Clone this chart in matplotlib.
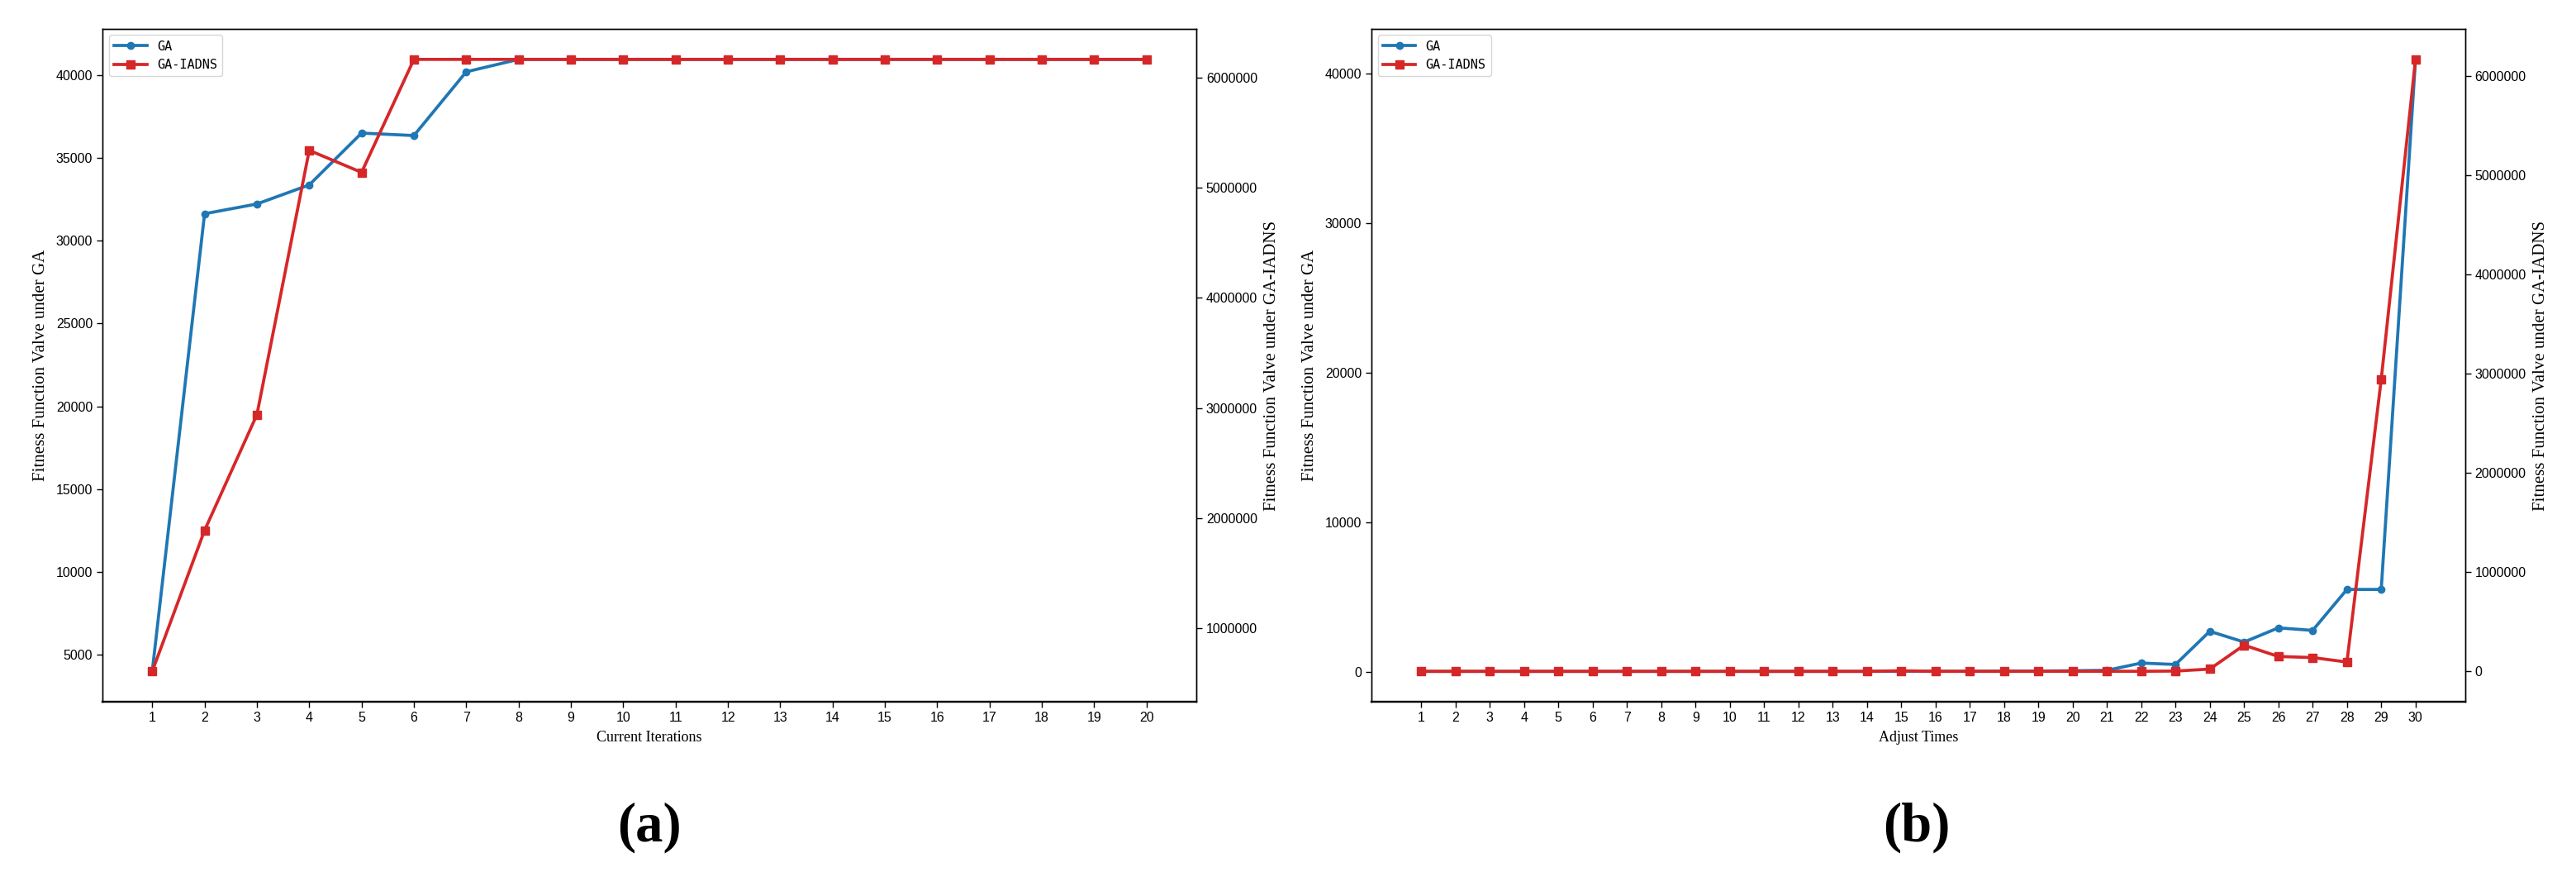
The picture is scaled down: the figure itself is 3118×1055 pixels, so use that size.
import matplotlib.pyplot as plt
from matplotlib.lines import Line2D

# (a) fitness per iteration
iters_a = list(range(1, 21))
ga_a = [4000, 31630, 32220, 33370, 36500, 36350, 40200, 40950, 40950, 40950,
        40950, 40950, 40950, 40950, 40950, 40950, 40950, 40950, 40950, 40950]
iadns_a = [610000, 1890000, 2940000, 5340000, 5140000, 6166000, 6166000, 6166000, 6166000, 6166000,
           6166000, 6166000, 6166000, 6166000, 6166000, 6166000, 6166000, 6166000, 6166000, 6166000]
yticks_a_left = [5000, 10000, 15000, 20000, 25000, 30000, 35000, 40000]
yticks_a_right = [1000000, 2000000, 3000000, 4000000, 5000000, 6000000]

# (b) fitness per adjustment
adjust_b = list(range(1, 31))
ga_b = [20, 20, 20, 20, 20, 20, 20, 20, 20, 20,
        20, 20, 20, 20, 30, 30, 30, 40, 40, 60,
        90, 575, 480, 2700, 1980, 2930, 2760, 5500, 5500, 40950]
iadns_b = [2000, 2000, 2000, 2000, 2000, 2000, 2000, 2000, 2000, 2000,
           2000, 2000, 2000, 2000, 8000, 2000, 2000, 2000, 2000, 3000,
           3000, 3000, 5000, 25000, 266000, 152000, 141000, 96000, 2943000, 6166000]
yticks_b_left = [0, 10000, 20000, 30000, 40000]
yticks_b_right = [0, 1000000, 2000000, 3000000, 4000000, 5000000, 6000000]

BLUE = '#1f77b4'
RED = '#d62728'
tick_font = 'Liberation Sans'
label_font = 'Liberation Serif'

fig = plt.figure(figsize=(31.18, 10.55), dpi=100)


def panel(rect, x, ga, iadns, lticks, rticks, xlabel, tag, tag_x):
    ax = fig.add_axes(rect)
    ax2 = ax.twinx()
    ax.plot(x, ga, color=BLUE, marker='o', markersize=6, linewidth=2.7)
    ax2.plot(x, iadns, color=RED, marker='s', markersize=6.5, linewidth=2.7)
    ax.set_xticks(x)
    ax.set_yticks(lticks)
    ax2.set_yticks(rticks)
    ax2.ticklabel_format(axis='y', style='plain', useOffset=False)
    for a in (ax, ax2):
        a.tick_params(labelsize=11.5, width=1.0, length=5)
        for lab in a.get_xticklabels() + a.get_yticklabels():
            lab.set_fontfamily(tick_font)
        for s in a.spines.values():
            s.set_linewidth(1.0)
        a.spines['bottom'].set_linewidth(1.6)
    ax.set_xlabel(xlabel, fontsize=13, family=label_font, labelpad=6)
    ax.set_ylabel('Fitness Function Valve under GA', fontsize=15, family=label_font, labelpad=6)
    ax2.set_ylabel('Fitness Function Valve under GA-IADNS', fontsize=15, family=label_font, labelpad=6)
    handles = [Line2D([], [], color=BLUE, marker='o', markersize=6, linewidth=2.7),
               Line2D([], [], color=RED, marker='s', markersize=6.5, linewidth=2.7)]
    ax2.legend(handles, ['GA', 'GA-IADNS'], loc='upper left', handlelength=2.6,
               prop={'family': 'DejaVu Sans Mono', 'size': 11})
    fig.text(tag_x, 0.051, tag, ha='center', va='center', fontsize=48,
             fontweight='bold', family=label_font)


panel([0.0398, 0.195, 0.4246, 0.772], iters_a, ga_a, iadns_a, yticks_a_left, yticks_a_right,
      'Current Iterations', '(a)', 0.252)
panel([0.5324, 0.195, 0.4246, 0.772], adjust_b, ga_b, iadns_b, yticks_b_left, yticks_b_right,
      'Adjust Times', '(b)', 0.744)

fig.savefig('out.png', dpi=100)
